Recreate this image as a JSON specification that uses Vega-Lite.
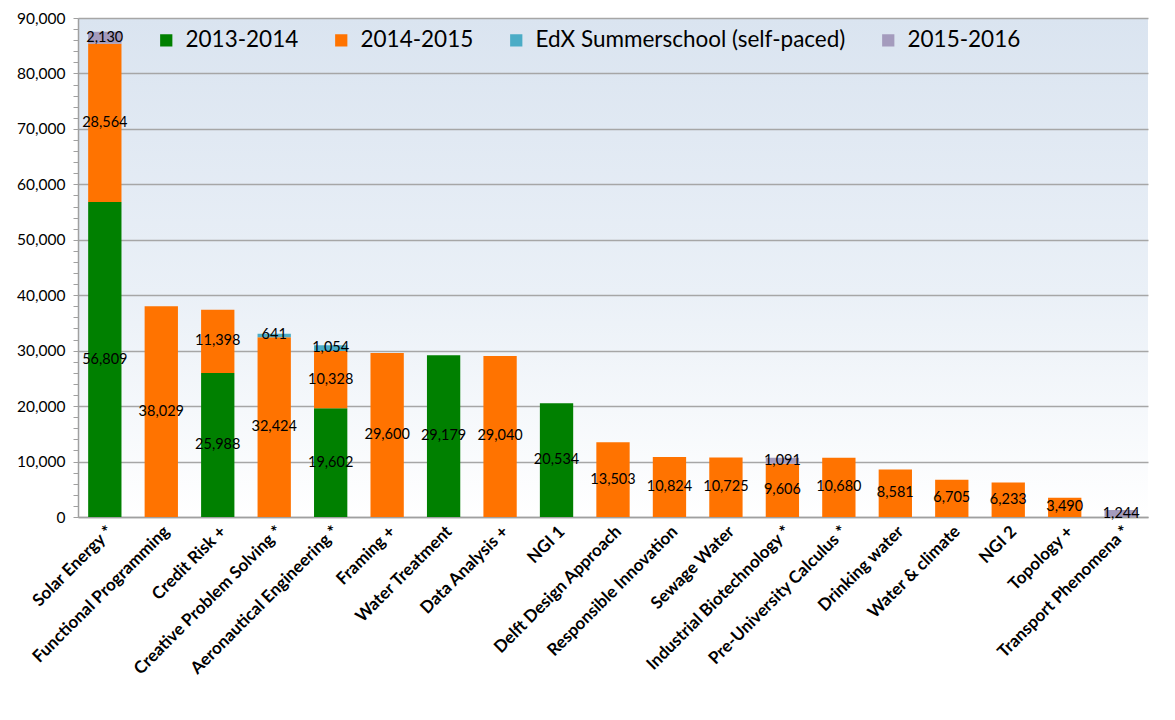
{
  "$schema": "https://vega.github.io/schema/vega-lite/v6.json",
  "autosize": "none",
  "width": 1070,
  "height": 499,
  "padding": {"left": 78, "top": 18, "right": 27, "bottom": 203},
  "background": "#ffffff",
  "config": {
    "font": "Lato",
    "view": {
      "stroke": null,
      "fill": {"gradient": "linear", "x1": 0, "y1": 0, "x2": 0, "y2": 1, "stops": [{"offset": 0, "color": "#dae4f0"}, {"offset": 0.55, "color": "#eaf0f7"}, {"offset": 1, "color": "#ffffff"}]}
    }
  },
  "data": {
    "values": [
      {"course": "Solar Energy *", "period": "2013-2014", "value": 56809},
      {"course": "Solar Energy *", "period": "2014-2015", "value": 28564},
      {"course": "Solar Energy *", "period": "2015-2016", "value": 2130},
      {"course": "Functional Programming", "period": "2014-2015", "value": 38029},
      {"course": "Credit Risk +", "period": "2013-2014", "value": 25988},
      {"course": "Credit Risk +", "period": "2014-2015", "value": 11398},
      {"course": "Creative Problem Solving *", "period": "2014-2015", "value": 32424},
      {"course": "Creative Problem Solving *", "period": "EdX Summerschool (self-paced)", "value": 641},
      {"course": "Aeronautical Engineering *", "period": "2013-2014", "value": 19602},
      {"course": "Aeronautical Engineering *", "period": "2014-2015", "value": 10328},
      {"course": "Aeronautical Engineering *", "period": "EdX Summerschool (self-paced)", "value": 1054},
      {"course": "Framing +", "period": "2014-2015", "value": 29600},
      {"course": "Water Treatment", "period": "2013-2014", "value": 29179},
      {"course": "Data Analysis +", "period": "2014-2015", "value": 29040},
      {"course": "NGI 1", "period": "2013-2014", "value": 20534},
      {"course": "Delft Design Approach", "period": "2014-2015", "value": 13503},
      {"course": "Responsible Innovation", "period": "2014-2015", "value": 10824},
      {"course": "Sewage Water", "period": "2014-2015", "value": 10725},
      {"course": "Industrial Biotechnology *", "period": "2014-2015", "value": 9606},
      {"course": "Industrial Biotechnology *", "period": "2015-2016", "value": 1091},
      {"course": "Pre-University Calculus *", "period": "2014-2015", "value": 10680},
      {"course": "Drinking water", "period": "2014-2015", "value": 8581},
      {"course": "Water & climate", "period": "2014-2015", "value": 6705},
      {"course": "NGI 2", "period": "2014-2015", "value": 6233},
      {"course": "Topology +", "period": "2014-2015", "value": 3490},
      {"course": "Transport Phenomena *", "period": "2015-2016", "value": 1244}
    ]
  },
  "transform": [
    {"stack": "value", "groupby": ["course"], "sort": [{"field": "period", "order": "ascending"}], "as": ["v0", "v1"]},
    {"calculate": "(datum.v0 + datum.v1) / 2", "as": "mid"}
  ],
  "encoding": {
    "x": {
      "field": "course",
      "type": "nominal",
      "sort": null,
      "title": null,
      "scale": {"paddingInner": 0.41, "paddingOuter": 0.18},
      "axis": {
        "labelAngle": -45,
        "labelFontSize": 17,
        "labelFontWeight": "bold",
        "labelColor": "#000000",
        "labelPadding": 6,
        "labelLimit": 300,
        "labelOverlap": false,
        "ticks": false,
        "domainColor": "#a0a0a0",
        "domainWidth": 1.5
      }
    }
  },
  "layer": [
    {
      "mark": {"type": "bar"},
      "encoding": {
        "y": {
          "field": "v1",
          "type": "quantitative",
          "scale": {"domain": [0, 90000], "nice": false},
          "title": null,
          "axis": {
            "values": [0, 2000, 4000, 6000, 8000, 10000, 12000, 14000, 16000, 18000, 20000, 22000, 24000, 26000, 28000, 30000, 32000, 34000, 36000, 38000, 40000, 42000, 44000, 46000, 48000, 50000, 52000, 54000, 56000, 58000, 60000, 62000, 64000, 66000, 68000, 70000, 72000, 74000, 76000, 78000, 80000, 82000, 84000, 86000, 88000, 90000],
            "labelExpr": "datum.value % 10000 === 0 ? format(datum.value, ',') : ''",
            "labelOverlap": false,
            "labelBound": false,
            "labelFlush": false,
            "labelFontSize": 15.5,
            "labelColor": "#000000",
            "labelPadding": 8,
            "tickSize": 5,
            "tickColor": "#a0a0a0",
            "domainColor": "#a0a0a0",
            "domainWidth": 1.5,
            "grid": true,
            "gridColor": "#a6a6a6",
            "gridWidth": 1.3,
            "gridOpacity": {"condition": {"test": "datum.value % 10000 === 0", "value": 1}, "value": 0}
          }
        },
        "y2": {"field": "v0"},
        "color": {
          "field": "period",
          "type": "nominal",
          "scale": {
            "domain": ["2013-2014", "2014-2015", "EdX Summerschool (self-paced)", "2015-2016"],
            "range": ["#008000", "#ff7300", "#4bacc6", "#a49bbd"]
          },
          "legend": {
            "title": null,
            "orient": "none",
            "direction": "horizontal",
            "legendX": 77,
            "legendY": 11,
            "symbolType": "square",
            "symbolSize": 150,
            "symbolStrokeWidth": 0,
            "labelFontSize": 22.5,
            "labelColor": "#000000",
            "labelOffset": 8,
            "labelLimit": 500,
            "columnPadding": 31,
            "padding": 0
          }
        }
      }
    },
    {
      "mark": {"type": "text", "fontSize": 14.5, "color": "#000000", "baseline": "middle", "align": "center"},
      "encoding": {
        "y": {
          "field": "mid",
          "type": "quantitative",
          "title": null,
          "axis": {
            "values": [0, 2000, 4000, 6000, 8000, 10000, 12000, 14000, 16000, 18000, 20000, 22000, 24000, 26000, 28000, 30000, 32000, 34000, 36000, 38000, 40000, 42000, 44000, 46000, 48000, 50000, 52000, 54000, 56000, 58000, 60000, 62000, 64000, 66000, 68000, 70000, 72000, 74000, 76000, 78000, 80000, 82000, 84000, 86000, 88000, 90000],
            "labelExpr": "datum.value % 10000 === 0 ? format(datum.value, ',') : ''",
            "labelOverlap": false,
            "labelBound": false,
            "labelFlush": false,
            "labelFontSize": 15.5,
            "labelColor": "#000000",
            "labelPadding": 8,
            "tickSize": 5,
            "tickColor": "#a0a0a0",
            "domainColor": "#a0a0a0",
            "domainWidth": 1.5,
            "grid": true,
            "gridColor": "#a6a6a6",
            "gridWidth": 1.3,
            "gridOpacity": {"condition": {"test": "datum.value % 10000 === 0", "value": 1}, "value": 0}
          }
        },
        "text": {"field": "value", "type": "quantitative", "format": ","}
      }
    }
  ]
}
